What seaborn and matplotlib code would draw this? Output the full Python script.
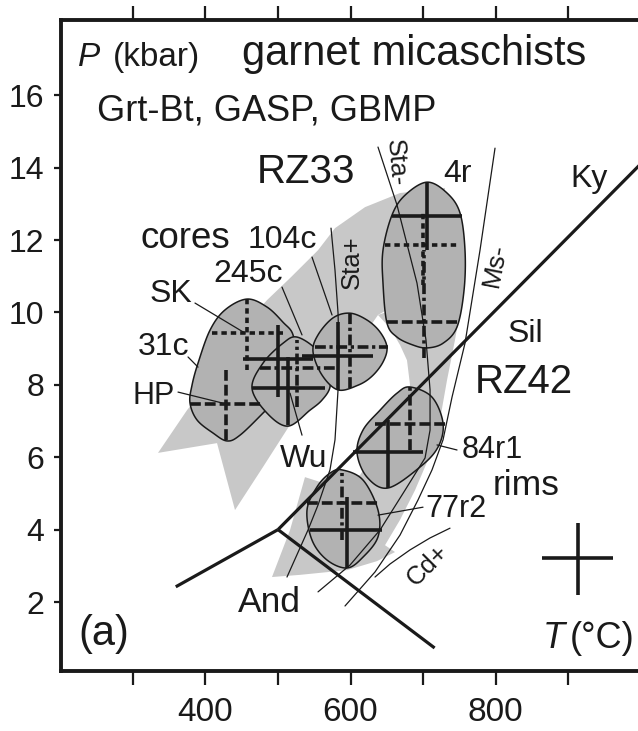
import numpy as np
import pandas as pd
import matplotlib
matplotlib.use("Agg")
import matplotlib.pyplot as plt
import seaborn as sns

# ---------------- data (T in °C, P in kbar) ----------------
# aluminosilicate phase boundaries
ky_sil_T = [500, 1000]
ky_sil_P = [4.0, 14.1]
ky_and_T = [500, 359]
ky_and_P = [4.0, 2.42]
and_sil_T = [500, 716]
and_sil_P = [4.0, 0.73]

# reaction curves
sta_plus_T = [573.1, 578.6, 582.8, 584.1, 582.8, 578.6, 571.7, 555.2, 541.4, 512.4]
sta_plus_P = [12.33, 11.17, 9.98, 8.96, 7.86, 6.48, 5.65, 4.68, 3.99, 2.69]
sta_minus_T = [637.9, 664.1, 691.7, 704.1, 709.7, 709.7, 702.8, 675.2, 640.7, 599.3, 555.2]
sta_minus_P = [14.57, 12.97, 10.81, 9.24, 7.86, 6.75, 5.98, 5.09, 3.99, 3.02, 2.28]
ms_minus_T = [799.3, 778.6, 757.9, 740.0, 727.6, 712.4, 693.1, 668.3, 633.8, 592.4]
ms_minus_P = [14.54, 11.72, 9.15, 7.66, 6.48, 5.65, 4.82, 3.85, 2.83, 1.89]
cd_plus_T = [737.2, 709.7, 682.1, 654.5, 633.8]
cd_plus_P = [4.04, 3.77, 3.44, 3.05, 2.69]

# P-T paths (broad arrows)
rz33_T = [730.3, 668.3, 620.0, 578.6, 555.2, 516.6, 484.8, 447.6, 413.1, 385.5, 374.5,
          334.5, 415.9, 440.7, 479.3, 513.8, 544.1, 585.5, 615.9, 637.9, 661.4, 695.9, 730.3]
rz33_P = [13.44, 13.30, 12.91, 12.33, 11.72, 10.95, 10.34, 9.51, 8.55, 7.58, 7.30,
          6.12, 6.39, 4.54, 5.73, 6.81, 7.72, 8.55, 9.29, 9.93, 10.20, 10.34, 10.34]
rz42_T = [695.9, 637.9, 654.5, 668.3, 677.9, 682.1, 647.6, 613.1, 571.7, 537.2, 516.6,
          491.7, 530.3, 595.2, 636.6, 661.4, 647.6, 668.3, 689.0, 709.7, 723.4, 733.1,
          744.1, 753.8, 753.8, 723.4]
rz42_P = [10.34, 9.93, 9.57, 9.10, 8.68, 7.99, 6.48, 5.51, 5.23, 5.45, 3.99,
          2.69, 2.75, 2.88, 3.13, 3.38, 3.57, 4.27, 5.09, 6.06, 7.03, 8.13,
          9.24, 10.34, 11.72, 11.45]

# sample envelopes
env_31c_T = [457.2, 484.8, 506.9, 520.7, 523.4, 509.7, 479.3, 447.6, 429.7, 410.3,
             388.3, 378.6, 381.4, 389.7, 406.2, 426.9]
env_31c_P = [10.37, 10.15, 9.73, 9.38, 8.68, 7.86, 7.22, 6.61, 6.45, 6.67,
             7.03, 7.50, 7.99, 8.60, 9.51, 10.07]
env_245c_T = [526.2, 553.8, 568.9, 571.7, 560.7, 544.1, 513.8, 484.8, 464.1, 479.3, 506.9]
env_245c_P = [9.32, 8.96, 8.41, 7.94, 7.58, 7.30, 6.86, 7.22, 7.91, 8.60, 9.15]
env_104c_T = [599.3, 622.8, 640.7, 650.3, 644.8, 629.7, 610.3, 582.8, 560.7, 548.3, 555.2, 575.9]
env_104c_P = [9.98, 9.79, 9.46, 9.04, 8.63, 8.24, 7.99, 7.86, 8.27, 8.91, 9.38, 9.85]
env_4r_T = [705.5, 733.1, 751.0, 757.9, 756.6, 746.9, 727.6, 705.5, 686.2, 664.1,
            650.3, 644.8, 644.8, 657.2, 675.2]
env_4r_P = [13.60, 13.30, 12.75, 11.72, 10.62, 9.60, 9.15, 9.02, 9.10, 9.32,
            9.71, 10.81, 11.72, 12.69, 13.24]
env_84r1_T = [682.1, 712.4, 727.6, 720.7, 695.9, 651.7, 622.8, 609.0, 617.2, 640.7, 664.1]
env_84r1_P = [7.94, 7.66, 6.94, 6.28, 5.73, 5.15, 5.45, 6.12, 6.75, 7.30, 7.77]
env_77r2_T = [588.3, 617.2, 637.9, 637.9, 617.2, 595.2, 567.6, 546.9, 540.0, 553.8, 571.7]
env_77r2_P = [5.65, 5.37, 4.54, 3.80, 3.24, 2.94, 3.16, 3.71, 4.54, 5.18, 5.56]

# thermobarometric estimates: centre and ranges
cross_T = [428.3, 457.2, 500.0, 526.2, 513.8, 582.8, 599.3, 705.5, 700.0, 701.4,
           682.1, 651.7, 588.3, 595.2, 913.8]
cross_P = [7.47, 9.43, 8.71, 8.46, 7.91, 8.80, 9.04, 12.66, 11.86, 9.73,
           6.92, 6.14, 4.73, 3.99, 3.22]
cross_Tlo = [378.6, 409.0, 451.7, 475.2, 464.1, 533.1, 551.0, 657.2, 647.6, 650.3,
             633.8, 603.4, 540.0, 544.1, 864.1]
cross_Thi = [477.9, 506.9, 548.3, 581.4, 564.8, 631.0, 651.7, 753.8, 748.3, 751.0,
             733.1, 700.0, 637.9, 643.4, 962.1]
cross_Plo = [6.48, 8.41, 7.66, 7.39, 6.89, 7.86, 7.91, 11.72, 10.76, 8.74,
             6.20, 5.15, 3.71, 2.94, 2.19]
cross_Phi = [8.41, 10.37, 9.65, 9.24, 8.77, 9.73, 9.98, 13.60, 12.83, 11.72,
             7.94, 7.03, 5.56, 4.90, 4.18]
cross_hkind = ["dash", "dot", "solid", "dashdot", "solid", "solid", "dashdot", "solid", "dot",
               "dash", "dash", "solid", "dash", "solid", "solid"]
cross_vkind = ["dash", "dot", "solid", "dashdot", "solid", "solid", "dashdot", "solid", "dot",
               "dashdot", "dash", "solid", "dashdot", "solid", "solid"]

# label leader lines: (T1, P1, T2, P2)
leaders = [
    (385.5, 10.26, 454.5, 9.43),   # SK
    (375.9, 8.77, 389.7, 8.49),    # 31c
    (362.1, 7.80, 422.8, 7.50),    # HP
    (505.5, 10.70, 533.1, 9.38),   # 245c
    (546.9, 11.53, 574.5, 9.93),   # 104c
    (533.1, 6.61, 516.6, 7.77),    # Wu
    (746.9, 6.20, 719.3, 6.34),    # 84r1
    (700.0, 4.62, 637.9, 4.40),    # 77r2
]

x_ticks = [300, 400, 500, 600, 700, 800, 900]
x_ticklabels = ["", "400", "", "600", "", "800", ""]
y_ticks = [2, 4, 6, 8, 10, 12, 14, 16]

# ---------------- drawing ----------------
sns.set_theme(style="ticks")
plt.rcParams["font.family"] = ["Liberation Sans", "DejaVu Sans"]
plt.rcParams["mathtext.default"] = "regular"

INK = "#1a1a1a"
ENV_FILL = "#b2b2b2"
PATH_FILL = "#c8c8c8"

fig = plt.figure(figsize=(6.38, 7.31), dpi=100)
ax = fig.add_axes([0.0956, 0.0821, 0.9044, 0.8905])
ax.set_xlim(200.7, 996.5)
ax.set_ylim(0.094, 18.08)


def closed_spline(xs, ys, n=24):
    pts = np.column_stack([xs, ys]).astype(float)
    m = len(pts)
    t = np.linspace(0, 1, n, endpoint=False)[:, None]
    segs = []
    for i in range(m):
        p0, p1, p2, p3 = pts[i - 1], pts[i], pts[(i + 1) % m], pts[(i + 2) % m]
        segs.append(0.5 * (2 * p1 + (-p0 + p2) * t
                           + (2 * p0 - 5 * p1 + 4 * p2 - p3) * t ** 2
                           + (-p0 + 3 * p1 - 3 * p2 + p3) * t ** 3))
    out = np.vstack(segs + [segs[0][:1]])
    return out[:, 0], out[:, 1]


# broad P-T path arrows
ax.fill(rz33_T, rz33_P, facecolor=PATH_FILL, edgecolor="none", zorder=1)
ax.fill(rz42_T, rz42_P, facecolor=PATH_FILL, edgecolor="none", zorder=1)

# sample envelopes
for et, ep in [(env_31c_T, env_31c_P), (env_245c_T, env_245c_P), (env_104c_T, env_104c_P),
               (env_4r_T, env_4r_P), (env_84r1_T, env_84r1_P), (env_77r2_T, env_77r2_P)]:
    sx, sy = closed_spline(et, ep)
    ax.fill(sx, sy, facecolor=ENV_FILL, edgecolor=INK, lw=1.1, zorder=2)

# reaction curves (thin)
curves = pd.concat([
    pd.DataFrame({"T": sta_plus_T, "P": sta_plus_P, "curve": "Sta+"}),
    pd.DataFrame({"T": sta_minus_T, "P": sta_minus_P, "curve": "Sta-"}),
    pd.DataFrame({"T": ms_minus_T, "P": ms_minus_P, "curve": "Ms-"}),
    pd.DataFrame({"T": cd_plus_T, "P": cd_plus_P, "curve": "Cd+"}),
], ignore_index=True)
sns.lineplot(data=curves, x="T", y="P", units="curve", estimator=None, sort=False,
             color=INK, lw=0.9, legend=False, ax=ax, zorder=3)

# aluminosilicate boundaries (thick)
for bt, bp in [(ky_sil_T, ky_sil_P), (ky_and_T, ky_and_P), (and_sil_T, and_sil_P)]:
    ax.plot(bt, bp, color=INK, lw=2.3, solid_capstyle="butt", zorder=3.5)

# error crosses
dash_styles = {
    "solid": "-",
    "dash": (0, (3.0, 1.1)),
    "dot": (0, (1.5, 1.1)),
    "dashdot": (0, (3.0, 1.0, 0.9, 1.0)),
}
for i in range(len(cross_T)):
    ax.plot([cross_Tlo[i], cross_Thi[i]], [cross_P[i], cross_P[i]], color=INK, lw=2.6,
            linestyle=dash_styles[cross_hkind[i]], solid_capstyle="butt",
            dash_capstyle="butt", zorder=4)
    ax.plot([cross_T[i], cross_T[i]], [cross_Plo[i], cross_Phi[i]], color=INK, lw=2.6,
            linestyle=dash_styles[cross_vkind[i]], solid_capstyle="butt",
            dash_capstyle="butt", zorder=4)

# leader lines
for t1, p1, t2, p2 in leaders:
    ax.plot([t1, t2], [p1, p2], color=INK, lw=0.9, zorder=4)

# ---------------- text ----------------
def label(t, p, s, size, **kw):
    kw.setdefault("ha", "left")
    kw.setdefault("va", "baseline")
    ax.text(t, p, s, fontsize=size, color=INK, zorder=6, **kw)


label(224.1, 16.81, "P", 24, style="italic")
label(272.4, 16.81, "(kbar)", 24)
label(450.3, 16.84, "garnet micaschists", 30)
label(250.3, 15.31, "Grt-Bt, GASP, GBMP", 26)
label(471.0, 13.57, "RZ33", 29)
label(727.6, 13.60, "4r", 23)
label(902.8, 13.46, "Ky", 23)
label(309.7, 11.78, "cores", 26.5)
label(458.6, 11.78, "104c", 23)
label(410.3, 10.84, "245c", 23)
label(323.4, 10.29, "SK", 23)
label(306.9, 8.82, "31c", 23)
label(300.0, 7.47, "HP", 22)
label(502.8, 5.73, "Wu", 23)
label(753.8, 5.98, "84r1", 22)
label(796.6, 4.96, "rims", 25.5)
label(702.8, 4.35, "77r2", 22)
label(771.7, 7.77, "RZ42", 29)
label(815.9, 9.18, "Sil", 23)
label(444.8, 1.72, "And", 25.5)
label(224.1, 0.81, "(a)", 30)
label(865.5, 0.73, "T", 26, style="italic")
label(902.8, 0.73, "(°C)", 26)

label(662.8, 14.13, "Sta-", 18.5, ha="center", va="center", rotation=-85)
label(602.1, 11.39, "Sta+", 18.5, ha="center", va="center", rotation=90)
label(799.3, 11.31, "Ms-", 19, ha="center", va="center", rotation=79)
label(706.9, 3.02, "Cd+", 18.5, ha="center", va="center", rotation=45)

# ---------------- axes ----------------
ax.set_xticks(x_ticks)
ax.set_xticklabels(x_ticklabels)
ax.set_yticks(y_ticks)
ax.set_yticklabels([str(v) for v in y_ticks])
ax.set_xlabel("")
ax.set_ylabel("")
ax.tick_params(axis="x", direction="out", length=10, width=1.6, top=True, labeltop=False,
               labelsize=24, pad=9, colors=INK)
ax.tick_params(axis="y", direction="out", length=5, width=1.6, labelsize=23, pad=7, colors=INK)
for side in ["left", "top", "bottom"]:
    ax.spines[side].set_linewidth(2.8)
    ax.spines[side].set_color(INK)
ax.spines["right"].set_visible(False)
ax.set_facecolor("white")
fig.patch.set_facecolor("white")

fig.savefig("out.png", dpi=100)
